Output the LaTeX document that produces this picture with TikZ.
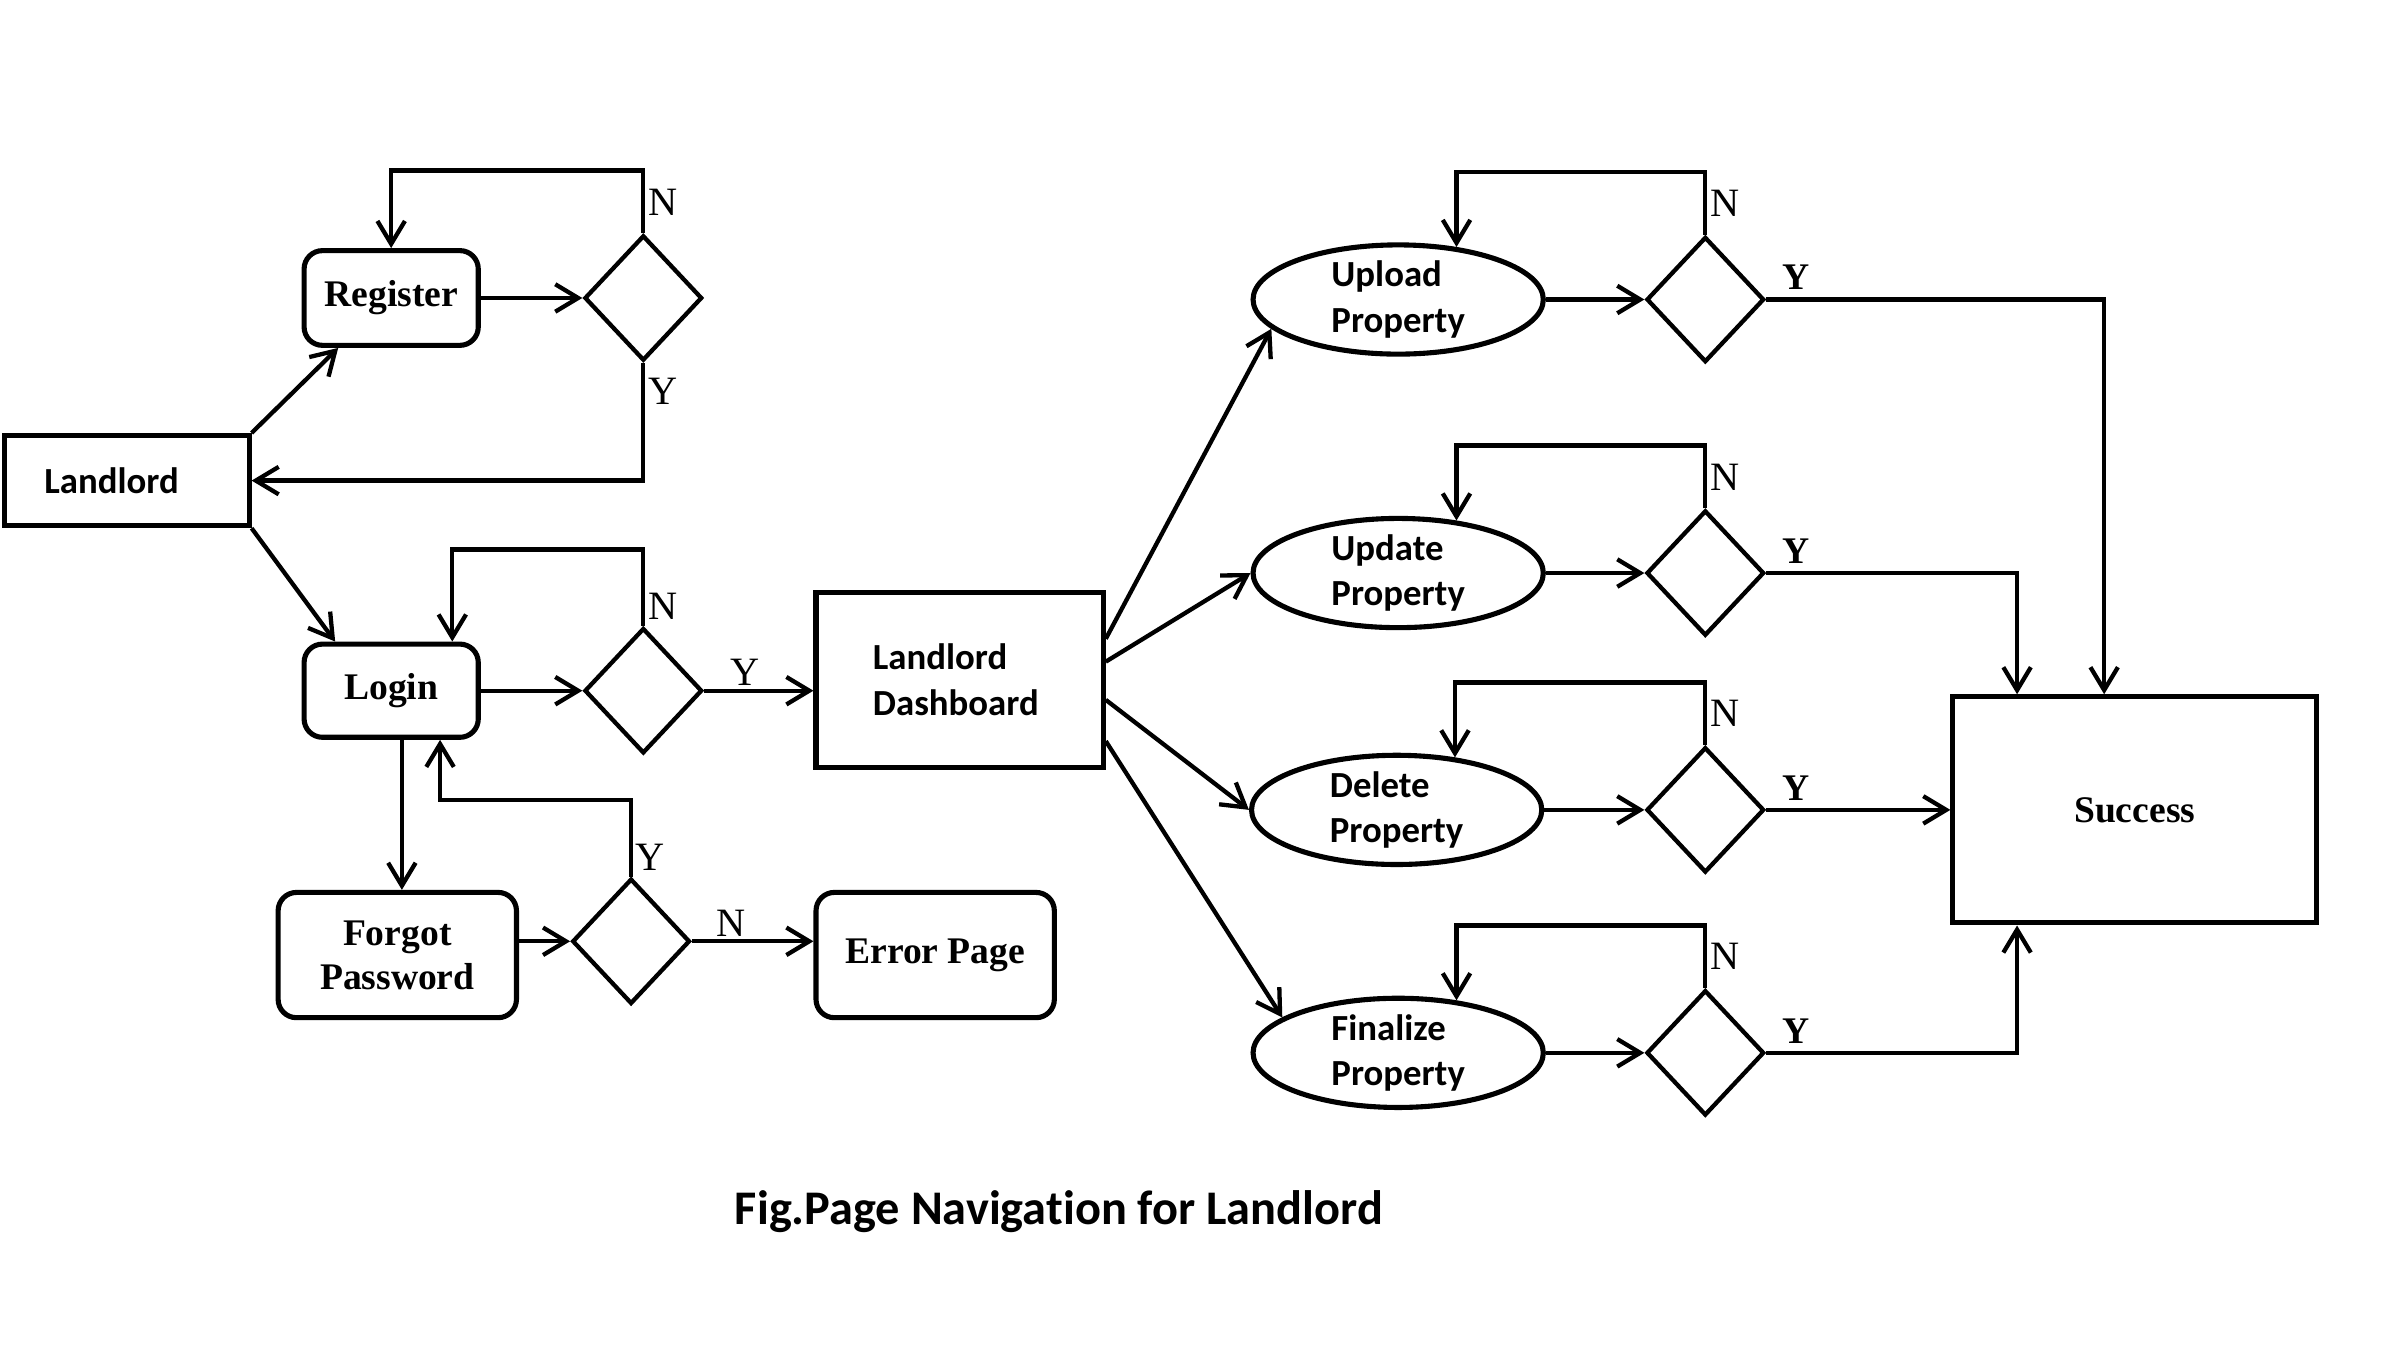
\documentclass[tikz,border=0pt]{standalone}
\usepackage{fontspec}
\setmainfont{Liberation Serif}
\newfontfamily\calibri[Ligatures=NoCommon]{Carlito}
\usetikzlibrary{shapes.geometric,arrows.meta}
\newcommand\sansbf{\calibri\bfseries\fontsize{13.7}{17}\selectfont}
\newcommand\serifbf{\bfseries\fontsize{14}{16.5}\selectfont}

\begin{document}
\begin{tikzpicture}[x=0.02cm,y=-0.02cm,line width=1.6pt,
		arr/.style={-{Straight Barb[length=3mm,width=3.6mm]}},
		box/.style={draw,line width=1.9pt,inner sep=0pt,align=left,font=\serifbf},
		sbox/.style={box,font=\sansbf},
		rbox/.style={box,rounded corners=2.4mm,align=center},
		ell/.style={draw,ellipse,line width=1.9pt,minimum width=3.8cm,minimum height=1.42cm,inner sep=0pt,align=left,font=\sansbf},
		dec/.style={draw,diamond,minimum width=1.54cm,minimum height=1.64cm,inner sep=0pt},
		lbl/.style={font=\fontsize{15}{15}\selectfont,inner sep=1pt},
		ylbl/.style={font=\serifbf,anchor=south west,inner sep=0pt,xshift=0.18cm,yshift=0.1cm}]
		\useasboundingbox (0,0) rectangle (1568,880);

		\node[sbox,minimum width=3.2cm,minimum height=1.18cm] (land) at (83,314.5) {Landlord\hspace*{0.4cm}};
		\node[rbox,minimum width=2.28cm,minimum height=1.24cm] (reg) at (256,195) {Register};
		\node[dec] (d1) at (421,195) {};
		\node[rbox,minimum width=2.28cm,minimum height=1.22cm] (login) at (256,452) {Login};
		\node[dec] (d2) at (421,452) {};
		\node[sbox,minimum width=3.76cm,minimum height=2.28cm] (dash) at (628,445) {Landlord\\Dashboard\hspace*{0.1cm}};
		\node[rbox,minimum width=3.12cm,minimum height=1.64cm] (forgot) at (260,625) {Forgot\\Password};
		\node[dec] (d3) at (413,616) {};
		\node[rbox,minimum width=3.12cm,minimum height=1.64cm] (err) at (612,625) {Error Page};

		\node[ell] (up) at (915,196) {Upload\\Property};
		\node[ell] (upd) at (915,375) {Update\\Property};
		\node[ell] (del) at (914,530) {Delete\\Property};
		\node[ell] (fin) at (915,689) {Finalize\\Property};
		\node[dec] (d4) at (1116,196) {};
		\node[dec] (d5) at (1116,375) {};
		\node[dec] (d6) at (1116,530) {};
		\node[dec] (d7) at (1116,689) {};
		\node[box,minimum width=4.76cm,minimum height=2.96cm] (succ) at (1397,530) {Success};

		\node[font=\calibri\bfseries\fontsize{18}{20}\selectfont] (cap) at (693,793) {Fig.Page Navigation for Landlord};

		\draw[arr] (land.north east) -- ([xshift=0.48cm]reg.south west);
		\draw[arr] (land.south east) -- ([xshift=0.44cm]login.north west);
		\draw[arr] (reg) -- (d1);
		\draw[arr] (d1.north) -- ++(0,-41) node[lbl,midway,right]{N} -| (reg.north);
		\draw[arr] (d1.south) |- node[lbl,pos=0.12,right]{Y} (land.east);

		\draw[arr] (login) -- (d2);
		\draw[arr] (d2.north) -- ++(0,-50) node[lbl,pos=0.26,right]{N} -| ([xshift=0.8cm]login.north);
		\draw[arr] (d2.east) -- node[lbl,pos=0.37,above]{Y} (d2.east -| dash.west);
		\draw[arr] ([xshift=0.14cm]login.south) -- ([xshift=0.14cm]login.south |- forgot.north);
		\draw[arr] (forgot.east |- d3) -- (d3.west);
		\draw[arr] (d3.north) -- ++(0,-50) node[lbl,pos=0.25,right]{Y} -| ([xshift=0.64cm]login.south);
		\draw[arr] (d3.east) -- node[lbl,pos=0.32,above]{N} (d3.east -| err.west);

		\draw[arr] ([yshift=0.54cm]dash.east) -- (up.193);
		\draw[arr] ([yshift=0.24cm]dash.east) -- (upd.west);
		\draw[arr] ([yshift=-0.26cm]dash.east) -- (del.west);
		\draw[arr] ([yshift=-0.8cm]dash.east) -- (fin.163);

		\foreach \e/\d in {up/d4,upd/d5,del/d6,fin/d7}{
			\draw[arr] (\e) -- (\d);
			\draw[arr] (\d.north) -- ++(0,-41) node[lbl,midway,right]{N} -| (\e.42);
		}

		\draw[arr] (d4.east) node[ylbl]{Y} -| ([xshift=-0.4cm]succ.north);
		\draw[arr] (d5.east) node[ylbl]{Y} -| ([xshift=-1.54cm]succ.north);
		\draw[arr] (d6.east) node[ylbl]{Y} -- (succ.west);
		\draw[arr] (d7.east) node[ylbl]{Y} -| ([xshift=-1.54cm]succ.south);
\end{tikzpicture}
\end{document}
